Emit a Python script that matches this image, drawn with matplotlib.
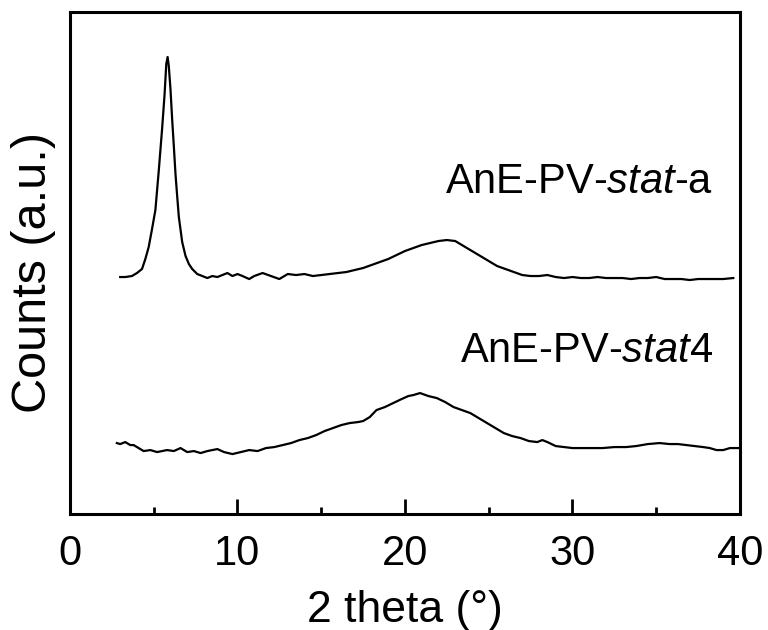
import matplotlib.pyplot as plt
from matplotlib.ticker import MultipleLocator

plt.rcParams["font.family"] = ["Liberation Sans", "DejaVu Sans"]
plt.rcParams["mathtext.fontset"] = "custom"
plt.rcParams["mathtext.rm"] = "Liberation Sans"
plt.rcParams["mathtext.it"] = "Liberation Sans:italic"

# AnE-PV-stat-a (upper trace)
theta_a = [3.0, 3.3, 3.7, 4.0, 4.3, 4.5, 4.7, 4.9, 5.1, 5.3, 5.5, 5.65, 5.75, 5.83,
           5.9, 6.0, 6.1, 6.2, 6.3, 6.4, 6.5, 6.7, 6.9, 7.1, 7.3, 7.6, 7.9, 8.2,
           8.5, 8.8, 9.1, 9.4, 9.7, 10.0, 10.3, 10.7, 11.0, 11.5, 12.0, 12.5, 13.0,
           13.5, 14.0, 14.5, 15.0, 15.5, 16.0, 16.5, 17.0, 17.5, 18.0, 18.5, 19.0,
           19.5, 20.0, 20.5, 21.0, 21.5, 22.0, 22.5, 23.0, 23.3, 23.7, 24.1, 24.5,
           25.0, 25.5, 26.0, 26.5, 27.0, 27.5, 28.0, 28.5, 29.0, 29.5, 30.0, 30.5,
           31.0, 31.5, 32.0, 32.5, 33.0, 33.5, 34.0, 34.5, 35.0, 35.5, 36.0, 36.5,
           37.0, 37.5, 38.0, 38.5, 39.0, 39.6]
counts_a = [237, 237, 238, 241, 245, 255, 267, 285, 304, 343, 385, 420, 450, 457,
            448, 425, 395, 368, 340, 318, 297, 272, 258, 250, 245, 240, 238, 236,
            238, 237, 239, 241, 238, 240, 238, 235, 238, 241, 238, 235, 240,
            239, 240, 238, 239, 240, 241, 242, 244, 246, 249, 252, 255,
            259, 263, 266, 269, 271, 273, 274, 273, 270, 266, 262, 258,
            253, 248, 245, 242, 239, 238, 238, 239, 237, 236, 237, 236,
            236, 237, 236, 236, 236, 235, 236, 236, 237, 235, 235, 235,
            234, 235, 235, 235, 235, 236]

# AnE-PV-stat4 (lower trace)
theta_b = [2.8, 3.0, 3.3, 3.6, 3.8, 4.1, 4.4, 4.8, 5.2, 5.8, 6.2, 6.6, 7.0, 7.4,
           7.8, 8.2, 8.8, 9.2, 9.7, 10.2, 10.7, 11.2, 11.7, 12.2, 12.7, 13.2,
           13.7, 14.2, 14.7, 15.2, 15.7, 16.2, 16.7, 17.2, 17.5, 17.9, 18.3, 18.8,
           19.3, 19.8, 20.2, 20.5, 20.9, 21.4, 21.9, 22.4, 22.9, 23.4, 23.9, 24.4,
           24.9, 25.4, 25.9, 26.4, 26.9, 27.4, 27.9, 28.2, 28.5, 29.0, 29.5, 30.0,
           30.5, 31.0, 31.8, 32.5, 33.2, 33.8, 34.5, 35.2, 35.8, 36.3, 36.8, 37.3,
           37.8, 38.2, 38.6, 39.0, 39.4, 39.9]
counts_b = [71, 70, 72, 69, 69, 66, 63, 64, 62, 64, 63, 66, 62, 63,
            61, 63, 65, 62, 60, 62, 64, 63, 66, 67, 69, 71,
            74, 76, 79, 83, 86, 89, 91, 92, 93, 97, 104, 107,
            111, 115, 118, 119, 121, 118, 116, 112, 107, 104, 101, 96,
            91, 86, 81, 78, 76, 73, 72, 74, 72, 68, 67, 66,
            66, 66, 66, 67, 67, 68, 70, 71, 70, 70, 69, 68,
            67, 66, 64, 64, 66, 66]

fig = plt.figure(figsize=(7.68, 6.3), dpi=100)
ax = fig.add_axes([0.0911, 0.184, 0.8724, 0.797])

ax.plot(theta_a, counts_a, color="black", lw=1.6)
ax.plot(theta_b, counts_b, color="black", lw=1.6)

ax.text(38.4, 321, r"AnE-PV-$\it{stat}$-a", fontsize=30, ha="right", va="baseline")
ax.text(38.4, 152, r"AnE-PV-$\it{stat}$4", fontsize=30, ha="right", va="baseline")

ax.set_xlim(0, 40)
ax.set_ylim(0, 502)
ax.xaxis.set_major_locator(MultipleLocator(10))
ax.xaxis.set_minor_locator(MultipleLocator(5))
ax.set_yticks([])
ax.tick_params(axis="x", which="major", direction="in", length=11, width=2,
               labelsize=30, pad=14)
ax.tick_params(axis="x", which="minor", direction="in", length=5, width=2)
for s in ax.spines.values():
    s.set_linewidth(2.2)

ax.set_xlabel("2 theta (°)", fontsize=32, va="baseline")
ax.xaxis.set_label_coords(0.5, -0.215)
ax.set_ylabel("Counts (a.u.)", fontsize=35, va="center")
ax.yaxis.set_label_coords(-0.054, 0.482)

fig.savefig("out.png", dpi=100)
